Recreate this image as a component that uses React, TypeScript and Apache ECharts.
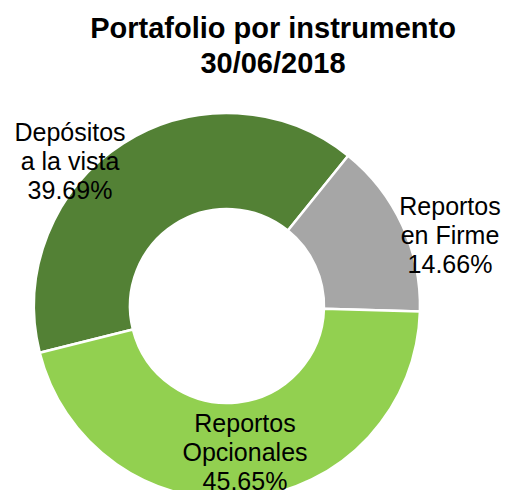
import React, { useEffect, useRef } from "react";
import * as echarts from "echarts";

const categories = ["Depósitos\na la vista", "Reportos\nen Firme", "Reportos\nOpcionales"];
const values = [39.69, 14.66, 45.65];
const colors = ["#538135", "#a6a6a6", "#92d050"];
const labelPositions: [number, number][] = [
  [70, 161],
  [450, 235],
  [245, 452],
];
const titleText = "Portafolio por instrumento\n30/06/2018";

export default function App() {
  const ref = useRef<HTMLDivElement>(null);
  useEffect(() => {
    if (!ref.current) return;
    const chart = echarts.init(ref.current, undefined, { renderer: "svg" });
    chart.setOption({
      animation: false,
      backgroundColor: "#ffffff",
      title: {
        text: titleText,
        left: 268,
        top: 5,
        textAlign: "center",
        textStyle: {
          fontFamily: "Liberation Sans",
          fontSize: 29,
          fontWeight: "bold",
          color: "#000000",
          lineHeight: 35,
        },
      },
      series: [
        {
          type: "pie",
          center: [227, 306],
          radius: [97, 193],
          startAngle: 194,
          clockwise: true,
          avoidLabelOverlap: false,
          itemStyle: { borderColor: "#ffffff", borderWidth: 2.5 },
          label: {
            show: true,
            position: "inside",
            fontFamily: "Liberation Sans",
            fontSize: 25,
            lineHeight: 29,
            color: "#000000",
            align: "center",
            formatter: (p: any) => `${p.name}\n${Number(p.value).toFixed(2)}%`,
          },
          labelLine: { show: false },
          labelLayout: (params: any) => {
            const pos = labelPositions[params.dataIndex];
            return { x: pos[0], y: pos[1], align: "center", verticalAlign: "middle" };
          },
          emphasis: { disabled: true },
          data: categories.map((c, i) => ({
            name: c,
            value: values[i],
            itemStyle: { color: colors[i] },
          })),
        },
      ],
    });
    return () => chart.dispose();
  }, []);
  return (
    <div
      ref={ref}
      style={{ position: "fixed", left: 0, top: 0, width: 506, height: 490, background: "#fff" }}
    />
  );
}
